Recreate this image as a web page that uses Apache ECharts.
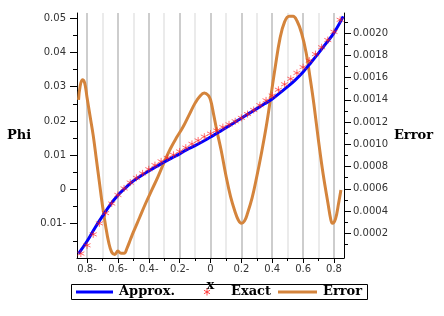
<!DOCTYPE html>
<html><head><meta charset="utf-8">
<script src="https://cdn.jsdelivr.net/npm/echarts@6/dist/echarts.min.js"></script>
<style>html,body{margin:0;padding:0;background:#fff}#c{width:444px;height:316px}</style>
</head><body><div id="c"></div>
<script>
// ---- data ----
const approxX = [-0.855,-0.8,-0.75,-0.7,-0.65,-0.6,-0.55,-0.5,-0.45,-0.4,-0.35,-0.3,-0.25,-0.2,-0.15,-0.1,-0.05,0,0.05,0.1,0.15,0.2,0.25,0.3,0.35,0.4,0.45,0.5,0.55,0.6,0.65,0.7,0.75,0.8,0.86];
const approxY = [-0.0187,-0.0151,-0.0113,-0.0078,-0.0045,-0.0017,0.0005,0.0025,0.0040,0.0054,0.0067,0.0080,0.0092,0.0104,0.0117,0.0128,0.0140,0.0153,0.0166,0.0180,0.0194,0.0208,0.0222,0.0236,0.0250,0.0264,0.0282,0.0300,0.0320,0.0343,0.0370,0.0398,0.0427,0.0457,0.0505];
const exactX = [-0.84,-0.8,-0.76,-0.72,-0.68,-0.64,-0.6,-0.56,-0.52,-0.48,-0.44,-0.4,-0.36,-0.32,-0.28,-0.24,-0.2,-0.16,-0.12,-0.08,-0.04,0,0.04,0.08,0.12,0.16,0.2,0.24,0.28,0.32,0.36,0.4,0.44,0.48,0.52,0.56,0.6,0.64,0.68,0.72,0.76,0.8,0.84];
const exactY = [-0.0187,-0.0163,-0.0131,-0.0099,-0.0069,-0.0041,-0.0016,0.0003,0.0020,0.0034,0.0047,0.0059,0.0071,0.0082,0.0092,0.0101,0.0111,0.0122,0.0133,0.0143,0.0154,0.0163,0.0172,0.0182,0.0190,0.0199,0.0209,0.0220,0.0232,0.0246,0.0260,0.0274,0.0291,0.0307,0.0323,0.0340,0.0357,0.0376,0.0395,0.0415,0.0436,0.0460,0.0495];
const errorX = [-0.855,-0.845,-0.83,-0.815,-0.8,-0.78,-0.76,-0.74,-0.72,-0.7,-0.68,-0.66,-0.64,-0.62,-0.6,-0.58,-0.56,-0.54,-0.52,-0.5,-0.46,-0.42,-0.38,-0.34,-0.3,-0.26,-0.22,-0.18,-0.14,-0.1,-0.07,-0.04,-0.015,0,0.02,0.04,0.07,0.1,0.13,0.16,0.18,0.2,0.22,0.24,0.27,0.3,0.33,0.36,0.39,0.42,0.45,0.48,0.51,0.535,0.56,0.59,0.62,0.645,0.67,0.7,0.73,0.76,0.78,0.79,0.81,0.83,0.845];
const errorY = [0.00140,0.00152,0.00158,0.00155,0.00142,0.00125,0.00108,0.00087,0.00066,0.00045,0.00027,0.00012,0.00003,0.00001,0.00004,0.00002,0.00002,0.00007,0.00014,0.00021,0.00034,0.00047,0.00059,0.00071,0.00084,0.00096,0.00106,0.00115,0.00126,0.00137,0.00143,0.00146,0.00144,0.00140,0.00127,0.00113,0.00094,0.00072,0.00053,0.00039,0.00032,0.00029,0.00031,0.00038,0.00052,0.00071,0.00092,0.00115,0.00142,0.00170,0.00195,0.00210,0.00215,0.00215,0.00211,0.00200,0.00182,0.00160,0.00136,0.00103,0.00073,0.00048,0.00032,0.00029,0.00033,0.00047,0.00059];

const xTickValues = [-0.8,-0.6,-0.4,-0.2,0,0.2,0.4,0.6,0.8];
const xTickLabels = ['0.8-','0.6-','0.4-','0.2-','0','0.2','0.4','0.6','0.8'];
const xMinorTicks = [-0.7,-0.5,-0.3,-0.1,0.1,0.3,0.5,0.7];
const gridMajor = [-0.8,-0.6,-0.4,-0.2,0,0.2,0.4,0.6,0.8];
const gridMinor = [-0.7,-0.5,-0.3,-0.1,0.1,0.3,0.5,0.7];
const leftTickValues = [-0.01,0,0.01,0.02,0.03,0.04,0.05];
const leftTickLabels = ['0.01-','0','0.01','0.02','0.03','0.04','0.05'];
const leftMinorTicks = [-0.015,-0.005,0.005,0.015,0.025,0.035,0.045];
const rightTickValues = [0.0002,0.0004,0.0006,0.0008,0.0010,0.0012,0.0014,0.0016,0.0018,0.0020];
const rightTickLabels = ['0.0002','0.0004','0.0006','0.0008','0.0010','0.0012','0.0014','0.0016','0.0018','0.0020'];
const rightMinorTicks = [0.0001,0.0003,0.0005,0.0007,0.0009,0.0011,0.0013,0.0015,0.0017,0.0019,0.0021];

const zip = (a,b) => a.map((v,i)=>[v,b[i]]);
const lookup = (vals, labels) => v => { const i = vals.findIndex(t => Math.abs(t - v) < 1e-9); return i >= 0 ? labels[i] : ''; };

const labelFont = {fontFamily:'DejaVu Sans', fontSize:10, color:'#333'};
const nameFont = {fontFamily:'DejaVu Serif', fontWeight:'bold', fontSize:13, color:'#000', align:'center', verticalAlign:'middle'};
const LEG_FONT = 'bold 13px "DejaVu Serif"';
const STAR = 'path://M5 0L5 10M0.67 2.5L9.33 7.5M0.67 7.5L9.33 2.5';
const STAR_COLOR = 'rgba(255,30,30,0.8)';

const X_MIN = -0.865, X_MAX = 0.865;
const L_MIN = -0.02, L_MAX = 0.0515;
const R_MIN = -0.000022, R_MAX = 0.00218;

const chart = echarts.init(document.getElementById('c'), null, {renderer:'canvas'});
const sx = 207, sy = 292, sr = 3.5;
chart.setOption({
  animation:false,
  backgroundColor:'#fff',
  grid:{left:77, right:100, top:13, bottom:58, containLabel:false},
  xAxis:[
    {type:'value', min:X_MIN, max:X_MAX, position:'bottom',
     name:'x', nameLocation:'middle', nameGap:20, nameTextStyle:nameFont,
     axisLine:{show:true, onZero:false, lineStyle:{color:'#000', width:1}},
     axisTick:{show:true, length:5, customValues:xTickValues, lineStyle:{color:'#000'}},
     axisLabel:{show:true, margin:6, customValues:xTickValues, formatter:lookup(xTickValues,xTickLabels), ...labelFont},
     splitLine:{show:false}},
    {type:'value', min:X_MIN, max:X_MAX, position:'bottom',
     axisLine:{show:false, onZero:false},
     axisTick:{show:true, length:3, customValues:xMinorTicks, lineStyle:{color:'#000'}},
     axisLabel:{show:false}, splitLine:{show:false}}
  ],
  yAxis:[
    {type:'value', min:L_MIN, max:L_MAX, position:'left',
     name:'Phi', nameLocation:'middle', nameGap:58, nameRotate:0, nameTextStyle:nameFont,
     axisLine:{show:true, onZero:false, lineStyle:{color:'#000', width:1}},
     axisTick:{show:true, length:7, customValues:leftTickValues, lineStyle:{color:'#000'}},
     axisLabel:{show:true, margin:11, customValues:leftTickValues, formatter:lookup(leftTickValues,leftTickLabels), ...labelFont},
     splitLine:{show:false}},
    {type:'value', min:L_MIN, max:L_MAX, position:'left',
     axisLine:{show:false, onZero:false},
     axisTick:{show:true, length:4, customValues:leftMinorTicks, lineStyle:{color:'#000'}},
     axisLabel:{show:false}, splitLine:{show:false}},
    {type:'value', min:R_MIN, max:R_MAX, position:'right',
     name:'Error', nameLocation:'middle', nameGap:69, nameRotate:0, nameTextStyle:nameFont,
     axisLine:{show:true, onZero:false, lineStyle:{color:'#000', width:1}},
     axisTick:{show:true, length:7, customValues:rightTickValues, lineStyle:{color:'#000'}},
     axisLabel:{show:true, margin:9, customValues:rightTickValues, formatter:lookup(rightTickValues,rightTickLabels), ...labelFont},
     splitLine:{show:false}},
    {type:'value', min:R_MIN, max:R_MAX, position:'right',
     axisLine:{show:false, onZero:false},
     axisTick:{show:true, length:4, customValues:rightMinorTicks, lineStyle:{color:'#000'}},
     axisLabel:{show:false}, splitLine:{show:false}}
  ],
  series:[
    {name:'grid', type:'line', xAxisIndex:0, yAxisIndex:0, data:[], z:1, silent:true,
     markLine:{silent:true, symbol:['none','none'], label:{show:false}, z:1, animation:false,
       data:[
         ...gridMinor.map(v=>({xAxis:v, lineStyle:{color:'#e4e4e4', width:1.5, type:'solid'}})),
         ...gridMajor.map(v=>({xAxis:v, lineStyle:{color:'#bdbdbd', width:1.5, type:'solid'}}))
       ]}},
    {name:'Error', type:'line', xAxisIndex:0, yAxisIndex:2, data:zip(errorX,errorY),
     smooth:0.4, symbol:'none', z:3, lineStyle:{color:'#d4843c', width:3}},
    {name:'Approx.', type:'line', xAxisIndex:0, yAxisIndex:0, data:zip(approxX,approxY),
     smooth:0.4, symbol:'none', z:4, lineStyle:{color:'#0000ff', width:3}},
    {name:'Exact', type:'scatter', xAxisIndex:0, yAxisIndex:0, data:zip(exactX,exactY),
     symbol:STAR, symbolSize:7, z:5,
     itemStyle:{color:'rgba(0,0,0,0)', borderColor:STAR_COLOR, borderWidth:1}}
  ],
  graphic:[
    {type:'rect', shape:{x:71.5, y:284.5, width:296, height:15}, style:{fill:'none', stroke:'#000', lineWidth:1}, z:10},
    {type:'line', shape:{x1:76, y1:292, x2:113, y2:292}, style:{stroke:'#0000ff', lineWidth:3}, z:11},
    {type:'text', x:119, y:292, style:{text:'Approx.', font:LEG_FONT, fill:'#000', verticalAlign:'middle', align:'left'}, z:11},
    {type:'line', shape:{x1:sx, y1:sy-sr, x2:sx, y2:sy+sr}, style:{stroke:STAR_COLOR, lineWidth:1}, z:11},
    {type:'line', shape:{x1:sx-sr*0.87, y1:sy-sr*0.5, x2:sx+sr*0.87, y2:sy+sr*0.5}, style:{stroke:STAR_COLOR, lineWidth:1}, z:11},
    {type:'line', shape:{x1:sx-sr*0.87, y1:sy+sr*0.5, x2:sx+sr*0.87, y2:sy-sr*0.5}, style:{stroke:STAR_COLOR, lineWidth:1}, z:11},
    {type:'text', x:231, y:292, style:{text:'Exact', font:LEG_FONT, fill:'#000', verticalAlign:'middle', align:'left'}, z:11},
    {type:'line', shape:{x1:278, y1:292, x2:317, y2:292}, style:{stroke:'#d4843c', lineWidth:3}, z:11},
    {type:'text', x:323, y:292, style:{text:'Error', font:LEG_FONT, fill:'#000', verticalAlign:'middle', align:'left'}, z:11}
  ]
});
</script>
</body></html>
